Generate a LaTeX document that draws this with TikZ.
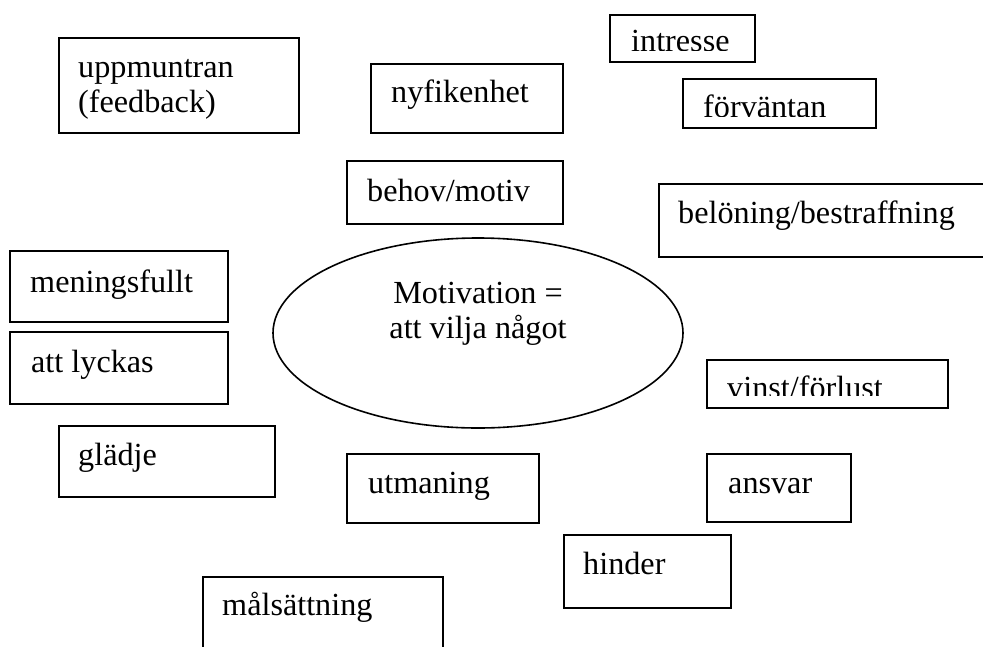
\documentclass[tikz,border=0pt]{standalone}
\usepackage{fontspec}
\setmainfont{Liberation Serif}
\usetikzlibrary{shapes.geometric}
\begin{document}
\begin{tikzpicture}[x=1pt,y=-1pt,
  box/.style={draw, line width=1.6pt, rectangle, inner sep=0pt, anchor=north west},
  lbl/.style={anchor=base west, inner sep=0pt, font=\fontsize{32.2}{35}\selectfont},
  clbl/.style={anchor=base, inner sep=0pt, font=\fontsize{32.2}{35}\selectfont}]
\useasboundingbox (0,0) rectangle (983,646);
\fill[white] (0,0) rectangle (983,646);
\clip (0,0) rectangle (983,646);

% central ellipse
\node[draw, ellipse, line width=1.6pt, inner sep=0pt, minimum width=410pt, minimum height=190pt] (mot) at (478,333) {};
\node[clbl] (mot-t1) at (478,303) {Motivation =};
\node[clbl] (mot-t2) at (478,338) {att vilja något};

% boxes
\node[box, minimum width=240pt, minimum height=95pt] (upp) at (58,37) {};
\node[lbl] (upp-t1) at (78,77) {uppmuntran};
\node[lbl] (upp-t2) at (78,112) {(feedback)};

\node[box, minimum width=192pt, minimum height=69pt] (nyf) at (370,63) {};
\node[lbl] (nyf-t) at (391,102) {nyfikenhet};

\node[box, minimum width=145pt, minimum height=47pt] (intr) at (609,14) {};
\begin{scope}
  \clip (605,10) rectangle (758,50.3);
  \node[lbl] (intr-t) at (631,51.5) {intresse};
\end{scope}

\node[box, minimum width=193pt, minimum height=49pt] (forv) at (682,78) {};
\begin{scope}
  \clip (678,74) rectangle (879,116.5);
  \node[lbl] (forv-t) at (703,117.5) {förväntan};
\end{scope}

\node[box, minimum width=216pt, minimum height=63pt] (beh) at (346,160) {};
\node[lbl] (beh-t) at (367,201) {behov/motiv};

\node[box, minimum width=340pt, minimum height=73pt] (bel) at (658,183) {};
\node[lbl] (bel-t) at (678,223) {belöning/bestraffning};

\node[box, minimum width=218pt, minimum height=71pt] (men) at (9,250) {};
\node[lbl] (men-t) at (30,292) {meningsfullt};

\node[box, minimum width=218pt, minimum height=72pt] (lyc) at (9,331) {};
\node[lbl] (lyc-t) at (31,372) {att lyckas};

\node[box, minimum width=241pt, minimum height=48pt] (vin) at (706,359) {};
\begin{scope}
  \clip (702,355) rectangle (951,395);
  \node[lbl] (vin-t) at (727,398) {vinst/förlust};
\end{scope}

\node[box, minimum width=216pt, minimum height=71pt] (gla) at (58,425) {};
\node[lbl] (gla-t) at (78,465) {glädje};

\node[box, minimum width=192pt, minimum height=69pt] (utm) at (346,453) {};
\node[lbl] (utm-t) at (368,493) {utmaning};

\node[box, minimum width=144pt, minimum height=68pt] (ans) at (706,453) {};
\node[lbl] (ans-t) at (728,493) {ansvar};

\node[box, minimum width=167pt, minimum height=73pt] (hin) at (563,534) {};
\node[lbl] (hin-t) at (583,574) {hinder};

\node[box, minimum width=240pt, minimum height=90pt] (mal) at (202,576) {};
\node[lbl] (mal-t) at (222,615) {målsättning};
\end{tikzpicture}
\end{document}
